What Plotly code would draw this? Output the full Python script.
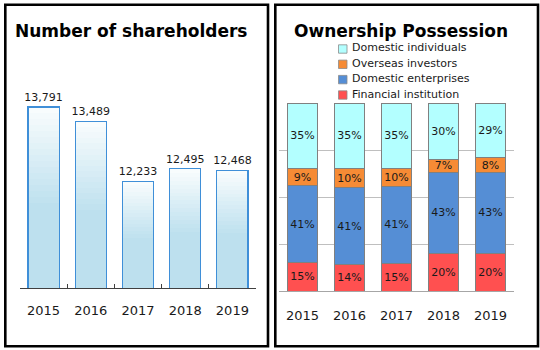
import plotly.graph_objects as go

# ---------------- data ----------------
years = ["2015", "2016", "2017", "2018", "2019"]
shareholders = [13791, 13489, 12233, 12495, 12468]

own_labels = ["Financial institution", "Domestic enterprises", "Overseas investors", "Domestic individuals"]
financial = [15, 14, 15, 20, 20]
enterprises = [41, 41, 41, 43, 43]
overseas = [9, 10, 10, 7, 8]
individuals = [35, 35, 35, 30, 29]

# ---------------- styling ----------------
W, H = 540, 350
FONT = "DejaVu Sans"
TXT = "#1a1a1a"
own_colors = ["#ff5050", "#558ed5", "#f68b35", "#b3ffff"]
LEFT_BASE = 10000
LEFT_TOP = 14000


def px(x):
    return x / W


def py(y):
    return 1 - y / H


def lerp_color(c1, c2, t):
    a = [int(c1[i:i + 2], 16) for i in (1, 3, 5)]
    b = [int(c2[i:i + 2], 16) for i in (1, 3, 5)]
    return "#%02x%02x%02x" % tuple(round(a[k] + (b[k] - a[k]) * t) for k in range(3))


fig = go.Figure()

# ---- left: gradient bars built as stacked slices of each bar ----
solid_frac = 0.47
n_grad = 16
dark = "#bde0ee"
light = "#f8fcfd"
heights = [v - LEFT_BASE for v in shareholders]
fig.add_trace(go.Bar(
    x=years, y=[LEFT_BASE + h * solid_frac for h in heights],
    marker=dict(color=dark, line=dict(width=0)), width=0.66,
    xaxis="x", yaxis="y", showlegend=False, hoverinfo="skip"))
for k in range(n_grad):
    t = (k + 1) / n_grad
    fig.add_trace(go.Bar(
        x=years, y=[h * (1 - solid_frac) / n_grad for h in heights],
        marker=dict(color=lerp_color(dark, light, t), line=dict(width=0)), width=0.66,
        xaxis="x", yaxis="y", showlegend=False, hoverinfo="skip"))
# outline + value labels
fig.add_trace(go.Bar(
    x=years, y=shareholders, width=0.66,
    marker=dict(color="rgba(0,0,0,0)", line=dict(color="#3f8fd8", width=1.2)),
    texttemplate="%{y:,}", textposition="outside", cliponaxis=False, constraintext="none",
    textfont=dict(family=FONT, size=11, color=TXT),
    xaxis="x", yaxis="y3", showlegend=False))

# ---- right: ownership stacked bars ----
series = [financial, enterprises, overseas, individuals]
totals = [sum(s[i] for s in series) for i in range(len(years))]
for name, vals, col in zip(own_labels, series, own_colors):
    fig.add_trace(go.Bar(
        x=years, y=[v / t * 100 for v, t in zip(vals, totals)], name=name,
        marker=dict(color=col, line=dict(color="#808080", width=1)), width=0.62,
        text=[f"{v}%" for v in vals], textposition="inside", insidetextanchor="middle",
        textangle=0, constraintext="none",
        textfont=dict(family=FONT, size=11, color=TXT),
        xaxis="x2", yaxis="y2", showlegend=False))

# ---------------- layout ----------------
shapes = [
    dict(type="rect", xref="paper", yref="paper", x0=px(5.3), x1=px(268), y0=py(346.3), y1=py(4.7),
         line=dict(color="black", width=2.6), layer="above"),
    dict(type="rect", xref="paper", yref="paper", x0=px(275.3), x1=px(538), y0=py(346.3), y1=py(4.7),
         line=dict(color="black", width=2.6), layer="above"),
]
annotations = [
    dict(text="<b>Number of shareholders</b>", x=px(130.5), y=py(31), xref="paper", yref="paper",
         xanchor="center", yanchor="middle", showarrow=False, font=dict(family=FONT, size=17, color="black")),
    dict(text="<b>Ownership Possession</b>", x=px(400.5), y=py(31), xref="paper", yref="paper",
         xanchor="center", yanchor="middle", showarrow=False, font=dict(family=FONT, size=17, color="black")),
]
# manual legend (top to bottom: reverse of stacking order)
leg_rows = [49, 64.3, 79.6, 95]
for row_y, name, col in zip(leg_rows, own_labels[::-1], own_colors[::-1]):
    shapes.append(dict(type="rect", xref="paper", yref="paper",
                       x0=px(338.5), x1=px(347), y0=py(row_y + 4.2), y1=py(row_y - 4.2),
                       fillcolor=col, line=dict(color="#8c8c8c", width=0.8)))
    annotations.append(dict(text=name, x=px(349.5), y=py(row_y - 1), xref="paper", yref="paper",
                            xanchor="left", yanchor="middle", showarrow=False,
                            font=dict(family=FONT, size=11, color=TXT)))

fig.update_layout(
    width=W, height=H, margin=dict(l=0, r=0, t=0, b=0),
    paper_bgcolor="white", plot_bgcolor="white",
    barmode="stack", showlegend=False,
    font=dict(family=FONT, color=TXT),
    xaxis=dict(domain=[px(20), px(256)], type="category", anchor="y",
               showline=True, linecolor="#404040", linewidth=1,
               ticks="inside", tickson="boundaries", ticklen=4, tickcolor="#404040",
               ticklabelstandoff=10, tickfont=dict(family=FONT, size=13, color=TXT),
               showgrid=False, fixedrange=True),
    yaxis=dict(domain=[py(288), py(97)], range=[LEFT_BASE, LEFT_TOP], visible=False, anchor="x"),
    yaxis3=dict(overlaying="y", range=[LEFT_BASE, LEFT_TOP], visible=False, anchor="x"),
    xaxis2=dict(domain=[px(279), px(514)], type="category", anchor="y2",
                showline=True, linecolor="#a6a6a6", linewidth=1, ticks="",
                ticklabelstandoff=12, tickfont=dict(family=FONT, size=13, color=TXT),
                showgrid=False),
    yaxis2=dict(domain=[py(291), py(103)], range=[0, 100], anchor="x2",
                showticklabels=False, ticks="", showgrid=True, gridcolor="#bfbfbf", gridwidth=1,
                dtick=25, tick0=0, zeroline=False, showline=False),
    shapes=shapes, annotations=annotations,
)

fig.write_html("out.html")
